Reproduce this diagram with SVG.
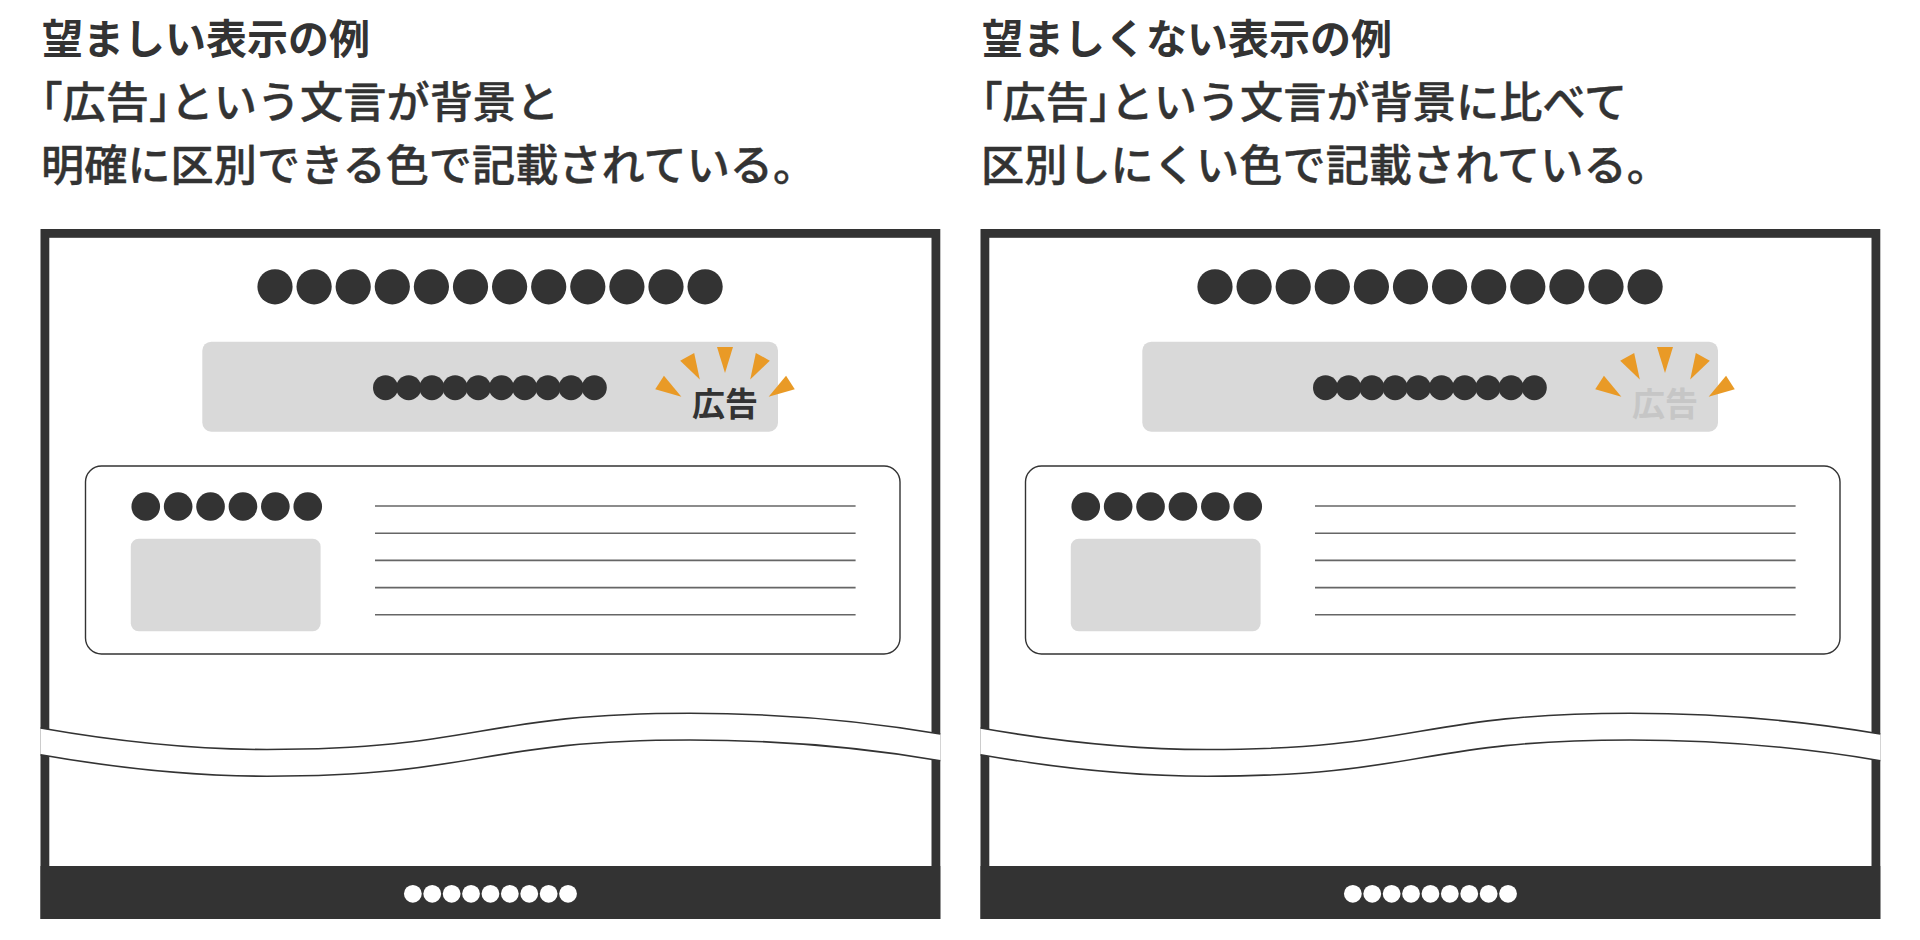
<svg xmlns="http://www.w3.org/2000/svg" xmlns:xlink="http://www.w3.org/1999/xlink" width="1920" height="940" viewBox="0 0 1920 940">
<style>
.t1{font-family:"Noto Sans CJK JP","Noto Sans CJK SC",sans-serif;font-size:41px;font-weight:700;fill:#333}
.t2{font-family:"Noto Sans CJK JP","Noto Sans CJK SC",sans-serif;font-size:43.2px;font-weight:500;fill:#333;stroke:#333;stroke-width:0.4}
.halt{font-feature-settings:"halt"}
.frame{fill:none;stroke:#333;stroke-width:8.8}
.dark{fill:#333}
.light{fill:#d9d9d9}
.wd{fill:#fff}
.wave{fill:none;stroke:#333;stroke-width:1.6}
.card{fill:#fff;stroke:#333;stroke-width:1.4}
.rule{stroke:#666;stroke-width:1.6}
.ray{fill:#e99a26}
.ad{font-family:"Noto Sans CJK JP","Noto Sans CJK SC",sans-serif;font-size:33px;font-weight:700;text-anchor:middle}
</style>
<defs>
<polygon id="ray" class="ray" points="-8,-78 8,-78 0,-52"/>
<g id="screen">
<rect class="frame" x="44.9" y="233.4" width="891" height="681.2"/>
<rect class="dark" x="40.5" y="866" width="899.8" height="53"/>
<path class="wd" d="M40.5 728 C120 742 200 749.5 267 749.5 C480 749.5 480 713.3 690 713.3 C790 713.3 870 722 940.3 734 L940.3 760.7 C870 748.7 790 740 690 740 C480 740 480 776.2 267 776.2 C200 776.2 120 768.7 40.5 754.7 Z"/>
<path class="wave" d="M40.5 728 C120 742 200 749.5 267 749.5 C480 749.5 480 713.3 690 713.3 C790 713.3 870 722 940.3 734"/>
<path class="wave" d="M40.5 754.7 C120 768.7 200 776.2 267 776.2 C480 776.2 480 740 690 740 C790 740 870 748.7 940.3 760.7"/>
<g class="dark">
<circle cx="275" cy="286.8" r="17.6"/><circle cx="314.1" cy="286.8" r="17.6"/><circle cx="353.2" cy="286.8" r="17.6"/><circle cx="392.3" cy="286.8" r="17.6"/><circle cx="431.4" cy="286.8" r="17.6"/><circle cx="470.5" cy="286.8" r="17.6"/><circle cx="509.6" cy="286.8" r="17.6"/><circle cx="548.7" cy="286.8" r="17.6"/><circle cx="587.8" cy="286.8" r="17.6"/><circle cx="626.9" cy="286.8" r="17.6"/><circle cx="666" cy="286.8" r="17.6"/><circle cx="705.1" cy="286.8" r="17.6"/>
</g>
<rect class="light" x="202.3" y="341.7" width="575.7" height="90" rx="9"/>
<g class="dark">
<circle cx="385.5" cy="387.7" r="12.5"/><circle cx="408.7" cy="387.7" r="12.5"/><circle cx="431.9" cy="387.7" r="12.5"/><circle cx="455.1" cy="387.7" r="12.5"/><circle cx="478.3" cy="387.7" r="12.5"/><circle cx="501.5" cy="387.7" r="12.5"/><circle cx="524.7" cy="387.7" r="12.5"/><circle cx="547.9" cy="387.7" r="12.5"/><circle cx="571.1" cy="387.7" r="12.5"/><circle cx="594.3" cy="387.7" r="12.5"/>
</g>
<g transform="translate(725,425)">
<use xlink:href="#ray" transform="rotate(-57)"/>
<use xlink:href="#ray" transform="rotate(-29)"/>
<use xlink:href="#ray"/>
<use xlink:href="#ray" transform="rotate(29)"/>
<use xlink:href="#ray" transform="rotate(57)"/>
</g>
<rect class="card" x="85.5" y="466" width="814.5" height="188" rx="16"/>
<g class="dark">
<circle cx="145.75" cy="506.5" r="14.3"/><circle cx="178.15" cy="506.5" r="14.3"/><circle cx="210.55" cy="506.5" r="14.3"/><circle cx="242.95" cy="506.5" r="14.3"/><circle cx="275.35" cy="506.5" r="14.3"/><circle cx="307.75" cy="506.5" r="14.3"/>
</g>
<rect class="light" x="130.8" y="538.7" width="189.8" height="92.6" rx="8"/>
<g class="rule">
<line x1="375" y1="506" x2="855.6" y2="506"/>
<line x1="375" y1="533.2" x2="855.6" y2="533.2"/>
<line x1="375" y1="560.4" x2="855.6" y2="560.4"/>
<line x1="375" y1="587.6" x2="855.6" y2="587.6"/>
<line x1="375" y1="614.8" x2="855.6" y2="614.8"/>
</g>
<g class="wd">
<circle cx="412.85" cy="893.8" r="8.9"/><circle cx="432.25" cy="893.8" r="8.9"/><circle cx="451.65" cy="893.8" r="8.9"/><circle cx="471.05" cy="893.8" r="8.9"/><circle cx="490.45" cy="893.8" r="8.9"/><circle cx="509.85" cy="893.8" r="8.9"/><circle cx="529.25" cy="893.8" r="8.9"/><circle cx="548.65" cy="893.8" r="8.9"/><circle cx="568.05" cy="893.8" r="8.9"/>
</g>
</g>
</defs>
<rect width="1920" height="940" fill="#fff"/>
<g id="title-left">
<text class="t1" x="42" y="53.5">望ましい表示の例</text>
<text class="t2 halt" x="41" y="118">「広告」という文言が背景と</text>
<text class="t2" x="41" y="180.5">明確に区別できる色で記載されている。</text>
</g>
<g id="title-right">
<text class="t1" x="982" y="53.5">望ましくない表示の例</text>
<text class="t2 halt" x="981" y="118">「広告」という文言が背景に比べて</text>
<text class="t2" x="981" y="180.5">区別しにくい色で記載されている。</text>
</g>
<g id="panel-left">
<use xlink:href="#screen"/>
<text class="ad" x="725" y="415.5" fill="#333">広告</text>
</g>
<g id="panel-right">
<use xlink:href="#screen" transform="translate(940,0)"/>
<text class="ad" x="1665" y="415.5" fill="#c6c6c6">広告</text>
</g>
</svg>
